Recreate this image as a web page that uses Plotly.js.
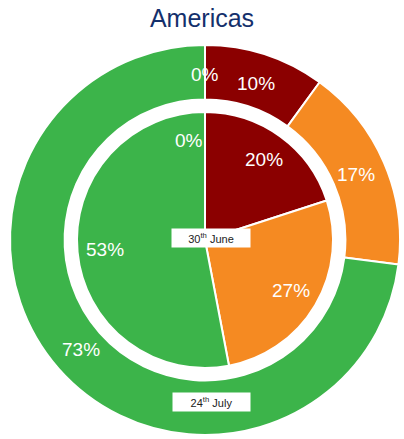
<!DOCTYPE html>
<html><head><meta charset="utf-8">
<script src="https://cdn.plot.ly/plotly-3.0.1.min.js"></script>
<style>html,body{margin:0;padding:0;background:#fff}#chart{width:404px;height:439px}</style>
</head><body><div id="chart"></div>
<script>
const categories = ['Red', 'Amber', 'Green', 'Other'];
const colors = ['#8B0000', '#F58A22', '#3CB44A', '#3CB44A'];
const outerValues = [10, 17, 73, 0];   // 24th July
const innerValues = [20, 27, 53, 0];   // 30th June
const outerLabel = '24<sup>th</sup> July';
const innerLabel = '30<sup>th</sup> June';

const W = 404, H = 439;
const CX = 205, CY = 240, R_OUT = 195, R_IN = 128;
const FONT = 'Liberation Sans, Arial, sans-serif';
function dom(cx, cy, r) {
  return {x: [(cx - r) / W, (cx + r) / W], y: [1 - (cy + r) / H, 1 - (cy - r) / H]};
}
const common = {
  type: 'pie', labels: categories, sort: false, direction: 'clockwise', rotation: 0,
  marker: {colors: colors, line: {color: '#ffffff', width: 2}},
  textinfo: 'none', hoverinfo: 'label+percent', showlegend: false
};
const outer = Object.assign({}, common, {values: outerValues, hole: 0.72, domain: dom(CX, CY, R_OUT)});
const inner = Object.assign({}, common, {values: innerValues, domain: dom(CX, CY, R_IN)});

// percentage labels placed at each slice's mid-angle
function sliceLabels(values, radius, zeroAnchor) {
  const total = values.reduce((a, b) => a + b, 0);
  let cum = 0;
  return values.map(v => {
    const mid = (cum + v / 2) / total * 2 * Math.PI;
    cum += v;
    const px = CX + radius * Math.sin(mid), py = CY - radius * Math.cos(mid);
    return {text: Math.round(v / total * 100) + '%', x: px / W, y: 1 - py / H,
            xref: 'paper', yref: 'paper', showarrow: false,
            xanchor: v === 0 ? zeroAnchor : 'center', yanchor: 'middle',
            font: {color: '#ffffff', size: 19, family: FONT}};
  });
}

const layout = {
  width: W, height: H, margin: {l: 0, r: 0, t: 0, b: 0},
  paper_bgcolor: '#ffffff',
  title: {text: 'Americas', x: 0.5, xanchor: 'center', y: 1 - 18 / H, yanchor: 'middle',
          font: {family: FONT, size: 25, color: '#14306C'}},
  annotations: [
    ...sliceLabels(outerValues, 165, 'center'),
    ...sliceLabels(innerValues, 100, 'right'),
    {text: innerLabel, x: 211 / W, y: 1 - 238 / H, xref: 'paper', yref: 'paper', showarrow: false,
     bgcolor: '#ffffff', width: 76, height: 16, font: {size: 11, color: '#222', family: FONT}},
    {text: outerLabel, x: 211 / W, y: 1 - 412 / H, xref: 'paper', yref: 'paper', showarrow: false,
     bgcolor: '#ffffff', width: 75, height: 16, font: {size: 11, color: '#222', family: FONT}}
  ]
};
Plotly.newPlot('chart', [outer, inner], layout, {displayModeBar: false, staticPlot: true});
</script></body></html>
